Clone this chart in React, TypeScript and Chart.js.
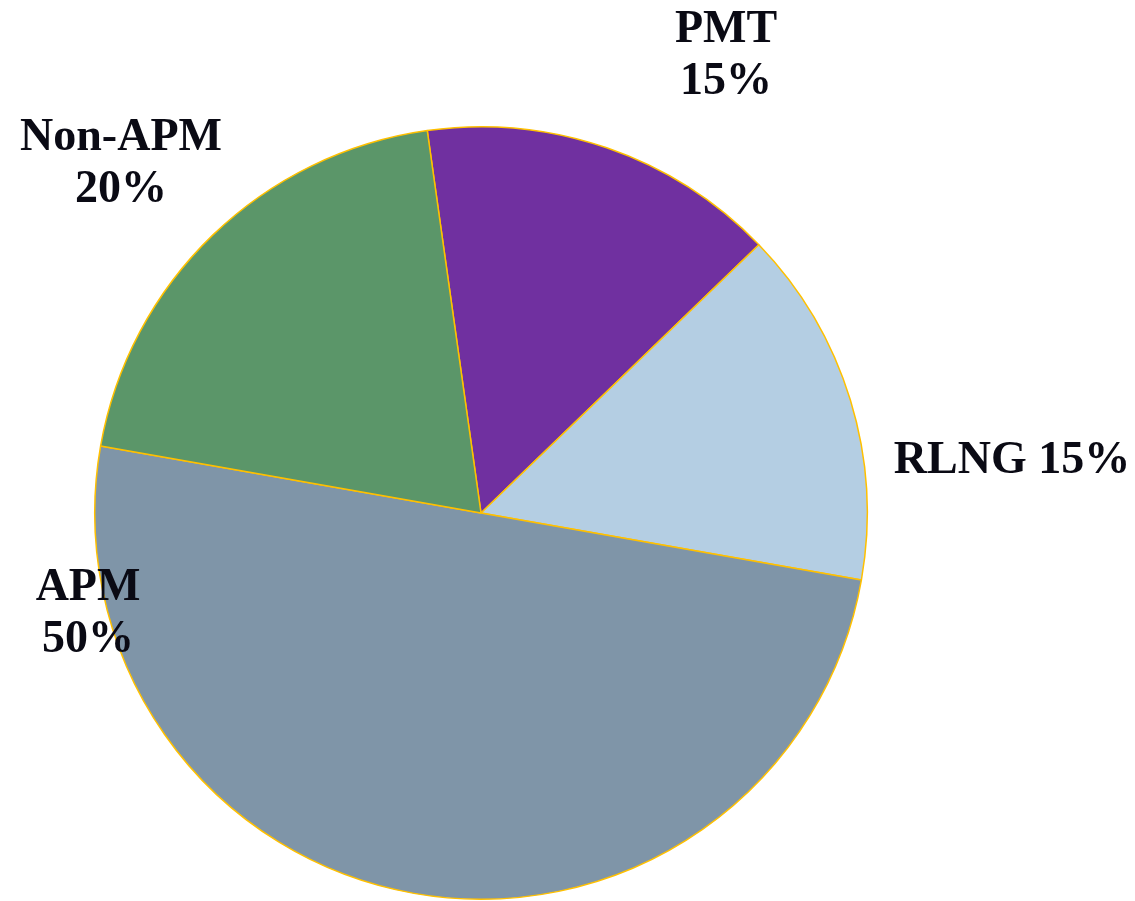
import React, { useEffect, useRef } from "react";
import { Chart, registerables } from "chart.js";

Chart.register(...registerables);

const categories = ["PMT", "RLNG", "APM", "Non-APM"];
const shares = [15, 15, 50, 20];
const colors = ["#7030A0", "#B4CEE3", "#7F95A8", "#5B9669"];
// label lines (text only)
const labelLines = [["PMT", "15%"], ["RLNG 15%"], ["APM", "50%"], ["Non-APM", "20%"]];
// label placement: offset of first baseline from pie centre, in px
const labelOffsets = [
  { dx: 245, dy: -471 },
  { dx: 531, dy: -40 },
  { dx: -393, dy: 87 },
  { dx: -360, dy: -363 },
];

const labelPlugin = {
  id: "sliceLabels",
  afterDatasetsDraw(chart: any) {
    const meta = chart.getDatasetMeta(0);
    const arc = meta.data[0];
    if (!arc) return;
    const cx = arc.x;
    const cy = arc.y;
    const ctx = chart.ctx;
    ctx.save();
    ctx.fillStyle = "#0a0a14";
    ctx.font = "bold 46px 'Liberation Serif', 'DejaVu Serif', serif";
    ctx.textAlign = "center";
    ctx.textBaseline = "alphabetic";
    labelLines.forEach((lines, i) => {
      const o = labelOffsets[i];
      lines.forEach((t, j) => {
        ctx.fillText(t, cx + o.dx, cy + o.dy + j * 52);
      });
    });
    ctx.restore();
  },
};

export default function App() {
  const ref = useRef<HTMLCanvasElement | null>(null);
  useEffect(() => {
    if (!ref.current) return;
    const chart = new Chart(ref.current, {
      type: "pie",
      data: {
        labels: categories,
        datasets: [
          {
            data: shares,
            backgroundColor: colors,
            borderColor: "#FFC000",
            borderWidth: 1.5,
          },
        ],
      },
      options: {
        animation: false,
        responsive: true,
        maintainAspectRatio: false,
        rotation: -8,
        layout: { padding: { left: 94, right: 267, top: 126, bottom: 1 } },
        plugins: {
          legend: { display: false },
          tooltip: { enabled: false },
        },
      },
      plugins: [labelPlugin],
    });
    return () => chart.destroy();
  }, []);
  return (
    <div style={{ position: "fixed", left: 0, top: 0, width: 1135, height: 901, background: "#fff" }}>
      <canvas ref={ref} />
    </div>
  );
}
